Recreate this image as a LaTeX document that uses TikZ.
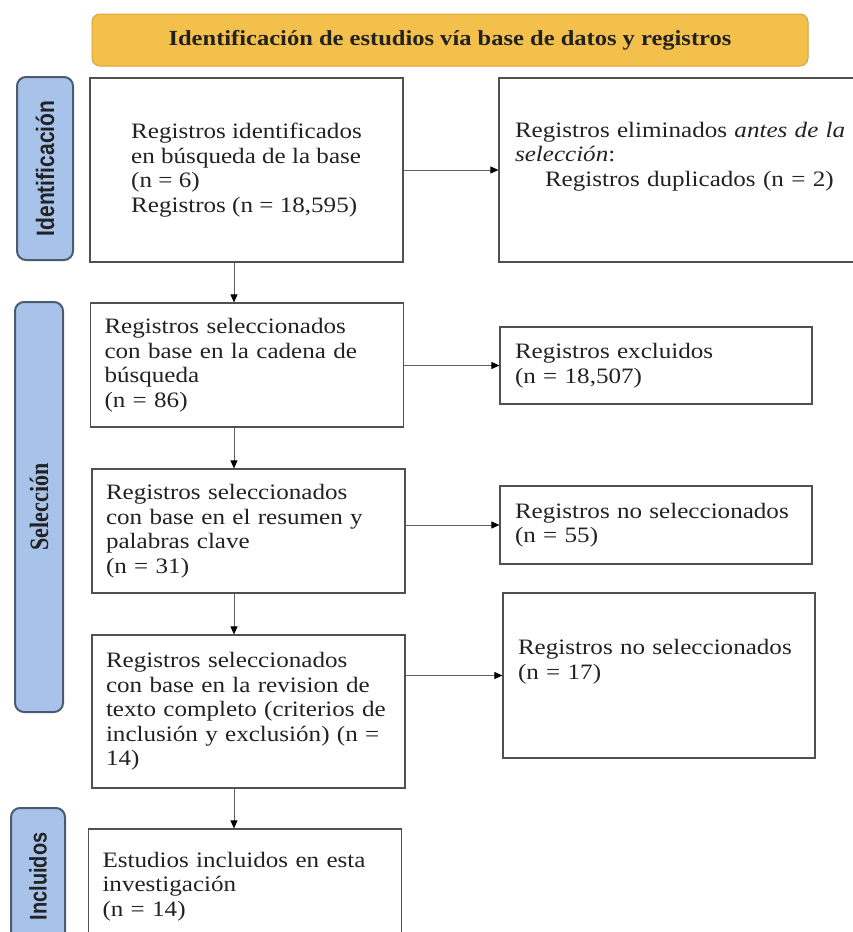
\documentclass[tikz,border=0pt]{standalone}
\usepackage{fontspec}
\setmainfont{Liberation Serif}[FakeStretch=1.14]
\newfontfamily\sidesans{Liberation Sans}
\newfontfamily\sideserif{Liberation Serif}
\usepackage{graphicx}
\usetikzlibrary{arrows.meta}

\definecolor{bannerfill}{HTML}{F3C14B}
\definecolor{bannerdraw}{HTML}{D8A33A}
\definecolor{sidefill}{HTML}{A8C3EA}
\definecolor{sidedraw}{HTML}{4D5B70}
\definecolor{boxgray}{HTML}{505050}
\definecolor{inkgray}{HTML}{222222}
\definecolor{linegray}{HTML}{606060}

\begin{document}
\begin{tikzpicture}[x=1pt,y=-1pt,
  box/.style={draw=boxgray,line width=1.2pt,fill=white,text=inkgray,
    font=\fontsize{22}{24.5}\selectfont},
  leftbox/.style={box,minimum width=313pt,text width=285pt,align=left,inner xsep=0pt},
  rightbox/.style={box,minimum width=312pt,text width=282pt,align=left,inner xsep=0pt},
  sidelbl/.style={draw=sidedraw,fill=sidefill,line width=2pt,rounded corners=9pt,
    rotate=90,text=inkgray},
  arr/.style={draw=linegray,line width=0.9pt,-{Triangle[length=8pt,width=7pt,color=black]}}
]
\useasboundingbox (0,0) rectangle (852,932);

% Banner
\node[draw=bannerdraw,fill=bannerfill,line width=1pt,rounded corners=8pt,
  minimum width=716pt,minimum height=52pt,text=inkgray,
  font=\fontsize{21.5}{24}\selectfont\bfseries] (banner) at (450,40)
  {Identificación de estudios vía base de datos y registros};

% Side labels
\node[sidelbl,minimum width=183pt,minimum height=56pt] (idlbl) at (45,168.5)
  {\scalebox{1}[1.2]{\fontsize{21}{24}\sidesans\bfseries Identificación}};
\node[sidelbl,minimum width=410pt,minimum height=48pt] (sellbl) at (39,507)
  {\scalebox{1}[1.2]{\fontsize{22}{24}\sideserif\bfseries Selección}};
\node[sidelbl,minimum width=137pt,minimum height=54pt] (inclbl) at (38,876.5)
  {\scalebox{1}[1.2]{\fontsize{20}{24}\sidesans\bfseries Incluidos}};

% Main column
\node[box,minimum width=313pt,minimum height=184pt,align=left] (b1) at (246.5,170)
  {Registros identificados\\en búsqueda de la base\\(n = 6)\\Registros (n = 18,595)};
\node[leftbox,minimum height=124pt] (b2) at (247,365)
  {Registros seleccionados\\con base en la cadena de\\búsqueda\\(n = 86)};
\node[leftbox,minimum height=124pt] (b3) at (248.5,531)
  {Registros seleccionados\\con base en el resumen y\\palabras clave\\(n = 31)};
\node[leftbox,minimum height=153pt] (b4) at (248.5,711.5)
  {Registros seleccionados\\con base en la revision de\\texto completo (criterios de\\inclusión y exclusión) (n =\\14)};
\node[leftbox,minimum height=115pt] (b5) at (245,886.5)
  {Estudios incluidos en esta\\investigación\\(n = 14)};

% Right column
\node[box,minimum width=371pt,minimum height=184pt,text width=339pt,align=left,inner xsep=0pt] (r1) at (684.5,170)
  {Registros eliminados \textit{antes de la}\\\textit{selección}:\\\hspace*{30pt}Registros duplicados (n = 2)\\\strut};
\node[rightbox,minimum height=77pt] (r2) at (656,365.5)
  {Registros excluidos\\(n = 18,507)};
\node[rightbox,minimum height=78pt] (r3) at (656,525)
  {Registros no seleccionados\\(n = 55)};
\node[rightbox,minimum height=165pt] (r4) at (659,675.5)
  {Registros no seleccionados\\(n = 17)\\\strut};

% Arrows
\coordinate (spine) at (234,0);
\draw[arr] (b1.south -| spine) -- (b2.north -| spine);
\draw[arr] (b2.south -| spine) -- (b3.north -| spine);
\draw[arr] (b3.south -| spine) -- (b4.north -| spine);
\draw[arr] (b4.south -| spine) -- (b5.north -| spine);
\draw[arr] (b1.east |- r1.west) -- (r1.west);
\draw[arr] (b2.east |- r2.west) -- (r2.west);
\draw[arr] (b3.east |- r3.west) -- (r3.west);
\draw[arr] (b4.east |- r4.west) -- (r4.west);

\end{tikzpicture}
\end{document}
